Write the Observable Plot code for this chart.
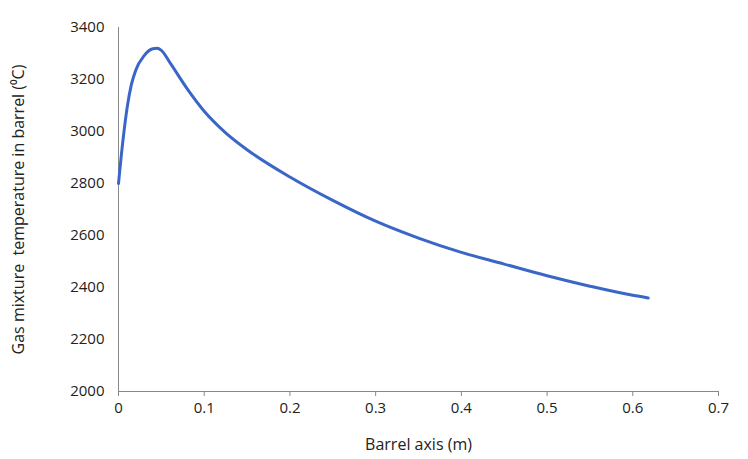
<!DOCTYPE html>
<html><head>
<script src="https://cdn.jsdelivr.net/npm/d3@7"></script>
<script src="https://cdn.jsdelivr.net/npm/@observablehq/plot@0.6"></script>
<style>body{margin:0;background:#fff}</style>
</head><body><div id="c"></div>
<script>
const xs = [0,0.005,0.01,0.015,0.02,0.03,0.04,0.045,0.05,0.06,0.08,0.1,0.125,0.15,0.2,0.25,0.3,0.35,0.4,0.45,0.5,0.55,0.6,0.618];
const ys = [2800,2960,3090,3180,3235,3292,3318,3320,3312,3265,3165,3078,2995,2930,2825,2735,2655,2590,2535,2490,2445,2405,2370,2360];
const data = xs.map((x,i)=>({x, y: ys[i]}));
const xTicks = [0,0.1,0.2,0.3,0.4,0.5,0.6,0.7];
const yTicks = [2000,2200,2400,2600,2800,3000,3200,3400];
const chart = Plot.plot({
  width: 748, height: 459,
  marginLeft: 118, marginRight: 30, marginTop: 27, marginBottom: 68,
  style: {fontFamily: "Open Sans, sans-serif", fontSize: "15px", color: "#222"},
  x: {domain: [0,0.7], label: null},
  y: {domain: [2000,3400], label: null},
  marks: [
    Plot.axisX({ticks: xTicks, tickFormat: d => String(d), tickSize: 5, stroke: "#888", tickPadding: 6}),
    Plot.axisY({ticks: yTicks, tickFormat: d => String(d), tickSize: 0, tickPadding: 14}),
    Plot.ruleX([0], {stroke: "#888"}),
    Plot.ruleY([2000], {stroke: "#888"}),
    Plot.line(data, {x: "x", y: "y", stroke: "#3a66c8", strokeWidth: 3, curve: "monotone-x"}),
    Plot.text(["Barrel axis (m)"], {frameAnchor: "bottom", dy: 58, fontSize: 16, fill: "#222"}),
    Plot.text(["Gas mixture  temperature in barrel (\u2070C)"], {frameAnchor: "left", textAnchor: "middle", dx: -100, rotate: -90, fontSize: 16, fill: "#222"})
  ]
});
document.getElementById("c").append(chart);
</script></body></html>
